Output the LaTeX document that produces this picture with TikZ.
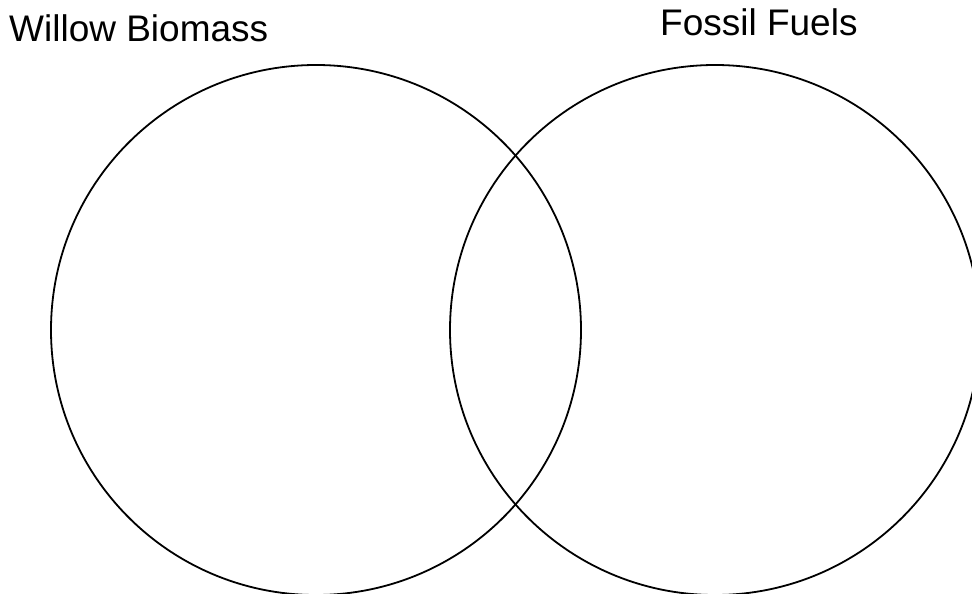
\documentclass[tikz,border=0pt]{standalone}
\usepackage{fontspec}
\setmainfont{Liberation Sans}
\usepackage{tikz}
\usetikzlibrary{positioning}
\tikzset{venn/.style={circle,draw=black,line width=1.8pt,minimum size=530pt,inner sep=0pt},
  setlabel/.style={font=\fontsize{37}{42}\selectfont,inner sep=0pt,anchor=base west}}

\begin{document}
\begin{tikzpicture}[x=1pt,y=-1pt]
 \useasboundingbox (0,0) rectangle (972,594);
 \node[venn] (willow) at (316,330) {};
 \node[venn] (fossil) at (715,330) {};
 \node[setlabel] (willowlbl) at (9,42) {Willow Biomass};
 \node[setlabel] (fossillbl) at (660,36) {Fossil Fuels};
\end{tikzpicture}
\end{document}
